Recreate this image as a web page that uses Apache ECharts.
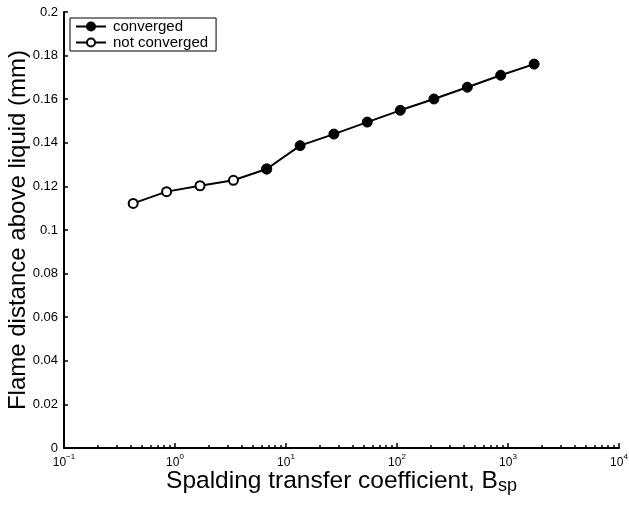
<!DOCTYPE html>
<html>
<head>
<meta charset="utf-8">
<script src="https://cdn.jsdelivr.net/npm/echarts@6/dist/echarts.min.js"></script>
<style>
  html, body { margin: 0; padding: 0; background: #fff; }
  #chart { width: 629px; height: 506px; }
</style>
</head>
<body>
<div id="chart"></div>
<script>
// Spalding transfer coefficient B_sp (log scale) and flame stand-off distance (mm)
const bsp = [0.42, 0.84, 1.68, 3.36, 6.7, 13.4, 27, 54, 107, 215, 430, 860, 1720];
const flameDist = [0.1122, 0.1176, 0.1203, 0.1228, 0.128, 0.1387, 0.144, 0.1495, 0.1549, 0.1601, 0.1655, 0.171, 0.1761];
// index of the first converged solution; earlier points did not converge
const firstConverged = 4;
const yTicks = [0, 0.02, 0.04, 0.06, 0.08, 0.1, 0.12, 0.14, 0.16, 0.18, 0.2];
const xDecades = [0.1, 1, 10, 100, 1000, 10000];

const pairs = bsp.map((x, i) => [x, flameDist[i]]);
const notConv = pairs.slice(0, firstConverged + 1);
const conv = pairs.slice(firstConverged);

// minor ticks at 2..9 within each decade
const minorTicks = [];
for (let d = 0; d < xDecades.length - 1; d++) {
  for (let k = 2; k <= 9; k++) minorTicks.push(+(xDecades[d] * k).toPrecision(3));
}

const FONT = 'Liberation Sans, Arial, Helvetica, sans-serif';
const chart = echarts.init(document.getElementById('chart'));
const axisBlack = { lineStyle: { color: '#000', width: 2 } };

chart.setOption({
  animation: false,
  textStyle: { fontFamily: FONT, color: '#000' },
  grid: { left: 64, right: 10, top: 12, bottom: 58, containLabel: false, outerBoundsMode: 'none' },
  legend: {
    left: 70, top: 18,
    orient: 'vertical',
    itemWidth: 30, itemHeight: 10, itemGap: 1,
    padding: [1, 8, 1, 5],
    borderColor: '#000', borderWidth: 1,
    backgroundColor: '#fff',
    textStyle: { fontSize: 15, color: '#000', fontFamily: FONT, padding: [0, 0, 0, 2] },
    data: ['converged', 'not converged']
  },
  xAxis: [{
    type: 'log', logBase: 10, min: 0.1, max: 10000,
    axisLine: axisBlack,
    axisTick: { inside: true, length: 5, lineStyle: { color: '#000', width: 1.5 } },
    splitLine: { show: false },
    axisLabel: {
      margin: 5, color: '#000',
      formatter: v => {
        const e = Math.round(Math.log10(v));
        return '{b|10}{s|' + (e < 0 ? '\u2212' + (-e) : e) + '}';
      },
      rich: {
        b: { fontSize: 12, fontFamily: FONT, color: '#000', verticalAlign: 'bottom', lineHeight: 16 },
        s: { fontSize: 8, fontFamily: FONT, color: '#000', verticalAlign: 'top', lineHeight: 10, padding: [0, 0, 9, 0] }
      }
    },
    name: '{t|Spalding transfer coefficient, B}{u|sp}',
    nameLocation: 'middle', nameGap: 21, nameMoveOverlap: false,
    nameTextStyle: {
      rich: {
        t: { fontSize: 24.5, fontFamily: FONT, color: '#000', verticalAlign: 'top', lineHeight: 26 },
        u: { fontSize: 18, fontFamily: FONT, color: '#000', verticalAlign: 'bottom', padding: [14, 0, 0, 0], lineHeight: 26 }
      }
    }
  }, {
    type: 'log', logBase: 10, min: 0.1, max: 10000,
    position: 'bottom',
    axisLine: { show: false },
    axisLabel: { show: false },
    splitLine: { show: false },
    axisTick: { inside: true, length: 3, customValues: minorTicks, lineStyle: { color: '#000', width: 1.5 } }
  }],
  yAxis: {
    type: 'value', min: 0, max: 0.2, interval: 0.02,
    axisLine: { show: true, lineStyle: { color: '#000', width: 2 } },
    axisTick: { show: true, inside: true, length: 4, lineStyle: { color: '#000', width: 1.5 } },
    splitLine: { show: false },
    axisLabel: {
      fontSize: 13, color: '#000', margin: 6,
      formatter: v => String(+v.toFixed(2))
    },
    name: 'Flame distance above liquid (mm)',
    nameLocation: 'middle', nameGap: 34, nameMoveOverlap: false,
    nameTextStyle: { fontSize: 24, fontFamily: FONT, color: '#000' }
  },
  series: [{
    name: 'not converged',
    type: 'line',
    data: notConv,
    symbol: 'circle', symbolSize: 9,
    lineStyle: { color: '#000', width: 2 },
    itemStyle: { color: '#fff', borderColor: '#000', borderWidth: 2 },
    z: 2
  }, {
    name: 'converged',
    type: 'line',
    data: conv,
    symbol: 'circle', symbolSize: 10,
    lineStyle: { color: '#000', width: 2 },
    itemStyle: { color: '#000', borderColor: '#000', borderWidth: 1 },
    z: 3
  }]
});
</script>
</body>
</html>
